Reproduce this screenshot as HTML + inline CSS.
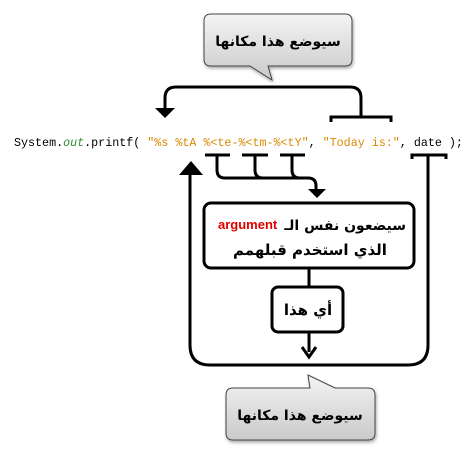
<!DOCTYPE html>
<html><head><meta charset="utf-8"><style>
body{margin:0;width:475px;height:450px;background:#fff;overflow:hidden}
svg{position:absolute;left:0;top:0}
</style></head><body>
<svg width="475" height="450" viewBox="0 0 475 450" xmlns="http://www.w3.org/2000/svg">
<defs>
<linearGradient id="g" x1="0" y1="0" x2="0" y2="1"><stop offset="0" stop-color="#f4f4f4"/><stop offset="1" stop-color="#c9c9c9"/></linearGradient>
<filter id="sh"><feDropShadow dx="1" dy="2" stdDeviation="1.5" flood-opacity="0.35"/></filter>
</defs>
<path d="M211,14 H345 Q352,14 352,21 V59 Q352,66 345,66 H268 L272,80 L250,66 H211 Q204,66 204,59 V21 Q204,14 211,14 Z" fill="url(#g)" stroke="#444" stroke-width="1" filter="url(#sh)"/>
<text x="278" y="46" font-family="'DejaVu Sans','Noto Sans CJK SC',sans-serif" font-weight="bold" font-size="14" text-anchor="middle">سيوضع هذا مكانها</text>
<path d="M233,388 H310 L308,375 L335,388 H368 Q375,388 375,395 V433 Q375,440 368,440 H233 Q226,440 226,433 V395 Q226,388 233,388 Z" fill="url(#g)" stroke="#444" stroke-width="1" filter="url(#sh)"/>
<text x="300" y="420" font-family="'DejaVu Sans','Noto Sans CJK SC',sans-serif" font-weight="bold" font-size="14" text-anchor="middle">سيوضع هذا مكانها</text>
<g fill="none" stroke="#000" stroke-width="3">
<path d="M331,122 V117 H391 V122"/>
<path d="M361,117 V98 Q361,87 350,87 H176 Q165,87 165,98 V108"/>
<path d="M205,155 H230 M242,155 H268 M280,155 H305"/>
<path d="M217,155 V170 Q217,178 225,178 H308 Q316,178 316,186 V190"/>
<path d="M255,155 V170 Q255,178 263,178"/>
<path d="M292,155 V170 Q292,178 300,178"/>
<path d="M412,159 V155 H446 V159"/>
<path d="M428,155 V345 Q428,365 408,365 H210 Q190,365 190,345 V174"/>
<path d="M309,268 V287 M309,332 V352"/>
</g>
<g fill="#000">
<polygon points="155,108 175,108 165,118"/>
<polygon points="308,189 326,189 317,198"/>
<polygon points="179,175 203,175 191,161"/>
</g>
<path d="M302,347 L309,357 L316,347" fill="none" stroke="#000" stroke-width="3"/>
<rect x="204" y="203" width="210" height="65" rx="7" fill="#fff" stroke="#000" stroke-width="3"/>
<rect x="272" y="287" width="71" height="45" rx="6" fill="#fff" stroke="#000" stroke-width="3"/>
<text x="406" y="230" font-family="'DejaVu Sans','Noto Sans CJK SC',sans-serif" font-weight="bold" font-size="14" text-anchor="end">سيضعون نفس الـ</text>
<text x="218" y="229" font-family="'Liberation Sans',sans-serif" font-weight="bold" font-size="13" fill="#e00000">argument</text>
<text x="310" y="255" font-family="'DejaVu Sans','Noto Sans CJK SC',sans-serif" font-weight="bold" font-size="15" text-anchor="middle">الذي استخدم قبلهمم</text>
<text x="308" y="315" font-family="'DejaVu Sans','Noto Sans CJK SC',sans-serif" font-weight="bold" font-size="15" text-anchor="middle">أي هذا</text>
<text x="14" y="146" font-family="'Liberation Mono',monospace" font-size="11.7" xml:space="preserve" fill="#000">System.<tspan fill="#2e8b2e" font-style="italic">out</tspan>.printf( <tspan fill="#d98a00">"%s %tA %&lt;te-%&lt;tm-%&lt;tY"</tspan>, <tspan fill="#d98a00">"Today is:"</tspan>, date );</text>
</svg>
</body></html>
